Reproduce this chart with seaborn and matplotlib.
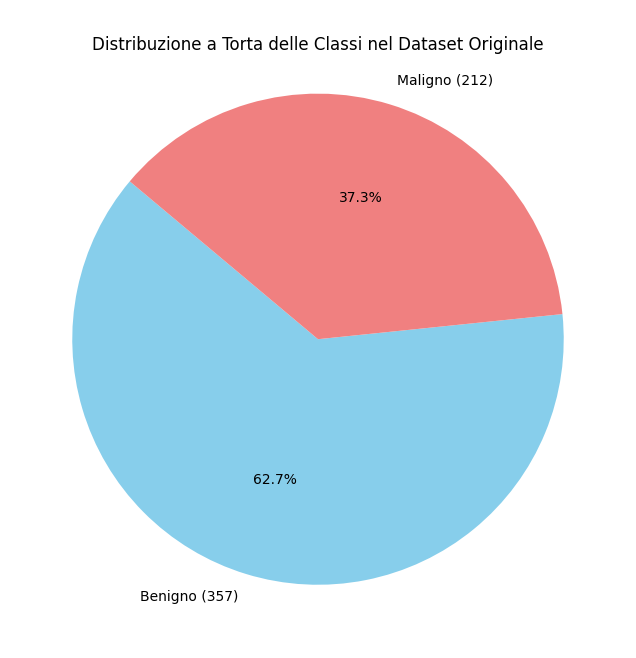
import matplotlib
matplotlib.use("Agg")
import matplotlib.pyplot as plt
import seaborn as sns

labels = ["Benigno (357)", "Maligno (212)"]
counts = [357, 212]
colors = sns.color_palette(["skyblue", "lightcoral"])

fig, ax = plt.subplots(figsize=(6.36, 6.58), dpi=100)
ax.pie(counts, labels=labels, colors=colors, autopct="%1.1f%%", startangle=140)
ax.set_title("Distribuzione a Torta delle Classi nel Dataset Originale", pad=14)
ax.axis("equal")
fig.subplots_adjust(left=0.075, right=0.925, top=0.895, bottom=0.074)
fig.savefig("out.png", dpi=100)
